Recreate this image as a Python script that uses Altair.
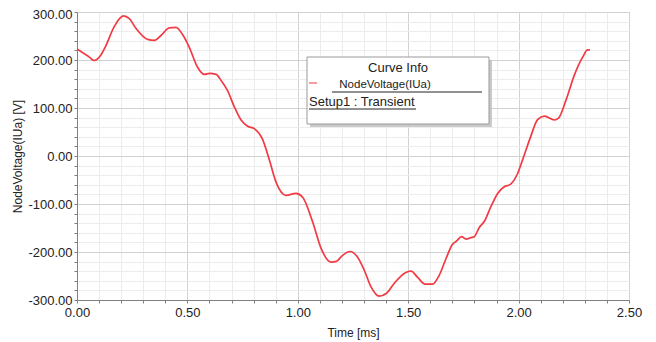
import altair as alt
import pandas as pd

# ---- data ----
time_ms = [0.0, 0.056, 0.078, 0.109, 0.131, 0.169, 0.21, 0.237, 0.267, 0.32, 0.35, 0.38,
           0.418, 0.448, 0.478, 0.509, 0.546, 0.577, 0.6, 0.63, 0.652, 0.682, 0.712, 0.743,
           0.773, 0.803, 0.84, 0.871, 0.901, 0.946, 0.992, 1.022, 1.067, 1.105, 1.15, 1.173,
           1.203, 1.236, 1.271, 1.301, 1.331, 1.369, 1.402, 1.437, 1.487, 1.513, 1.543, 1.577,
           1.61, 1.641, 1.671, 1.702, 1.717, 1.742, 1.762, 1.784, 1.799, 1.822, 1.845, 1.875,
           1.905, 1.935, 1.963, 1.995, 2.018, 2.056, 2.086, 2.117, 2.162, 2.181, 2.215, 2.252,
           2.29, 2.313, 2.323]
voltage = [223, 206, 199, 211, 230, 270, 292, 286, 266, 243, 241, 251,
           267, 268, 253, 226, 185, 170, 172, 170, 158, 136, 103, 75,
           62, 57, 35, -8, -54, -82, -78, -86, -137, -192, -221, -220,
           -207, -199, -211, -238, -272, -292, -286, -265, -243, -240, -253, -267,
           -267, -248, -214, -183, -178, -168, -173, -170, -168, -149, -136, -105,
           -78, -64, -59, -37, -8, 42, 76, 83, 75, 79, 117, 168,
           206, 221, 221]

x_ticks = [0.0, 0.1, 0.2, 0.3, 0.4, 0.5, 0.6, 0.7, 0.8, 0.9, 1.0, 1.1, 1.2, 1.3,
           1.4, 1.5, 1.6, 1.7, 1.8, 1.9, 2.0, 2.1, 2.2, 2.3, 2.4, 2.5]
y_ticks = [-300, -280, -260, -240, -220, -200, -180, -160, -140, -120, -100, -80, -60,
           -40, -20, 0, 20, 40, 60, 80, 100, 120, 140, 160, 180, 200, 220, 240, 260,
           280, 300]

x_title = "Time [ms]"
y_title = "NodeVoltage(IUa) [V]"
legend_title = "Curve Info"
legend_series = "NodeVoltage(IUa)"
legend_setup = "Setup1 : Transient"

FONT = "Liberation Sans"
RED = "#f23a44"

df = pd.DataFrame({"t": time_ms, "v": voltage})

x_major = "abs(datum.value*2 - round(datum.value*2)) < 0.001"
y_major = "abs(datum.value/100 - round(datum.value/100)) < 0.001"

xaxis = alt.Axis(
    values=x_ticks,
    labelExpr=f"{x_major} ? format(datum.value, '.2f') : ''",
    labelOverlap=False,
    labelFlush=False,
    title=x_title,
    grid=True,
    gridColor={"condition": {"test": x_major, "value": "#d2d2d2"}, "value": "#ececec"},
    tickSize=3,
    labelPadding=3,
    titlePadding=8,
)
yaxis = alt.Axis(
    values=y_ticks,
    labelExpr=f"{y_major} ? replace(format(datum.value, '.2f'), '\u2212', '-') : ''",
    labelOverlap=False,
    labelFlush=False,
    title=y_title,
    grid=True,
    gridColor={"condition": {"test": y_major, "value": "#d2d2d2"}, "value": "#ececec"},
    labelOffset={"condition": {"test": "datum.value >= 299", "value": 2}, "value": 0},
    tickSize=3,
    labelPadding=2,
    titlePadding=3,
)

curve = alt.Chart(df).mark_line(
    color=RED, strokeWidth=1.7, interpolate="monotone", clip=True
).encode(
    x=alt.X("t:Q", scale=alt.Scale(domain=[0, 2.5], nice=False, zero=False), axis=xaxis),
    y=alt.Y("v:Q", scale=alt.Scale(domain=[-300, 300], nice=False, zero=False), axis=yaxis),
)

one = alt.Data(values=[{"k": 0}])

shadow = alt.Chart(one).mark_rect(color="#bdbdbd", opacity=0.8).encode(
    x=alt.value(233), x2=alt.value(415), y=alt.value(48), y2=alt.value(115)
)
box = alt.Chart(one).mark_rect(fill="white", stroke="#9a9a9a", strokeWidth=1).encode(
    x=alt.value(230), x2=alt.value(412), y=alt.value(45), y2=alt.value(112)
)
lt = alt.Chart(one).mark_text(text=legend_title, font=FONT, fontSize=13, color="#222",
                              align="center", baseline="middle").encode(
    x=alt.value(321), y=alt.value(56))
dash = alt.Chart(one).mark_rule(color=RED, strokeWidth=1).encode(
    x=alt.value(232), x2=alt.value(240), y=alt.value(71))
ls = alt.Chart(one).mark_text(text=legend_series, font=FONT, fontSize=11.5, color="#222",
                              align="center", baseline="middle").encode(
    x=alt.value(308), y=alt.value(73))
ls_line = alt.Chart(one).mark_rule(color="#222", strokeWidth=1).encode(
    x=alt.value(255), x2=alt.value(405), y=alt.value(80))
su = alt.Chart(one).mark_text(text=legend_setup, font=FONT, fontSize=13, color="#222",
                              align="left", baseline="middle").encode(
    x=alt.value(232), y=alt.value(90))
su_line = alt.Chart(one).mark_rule(color="#222", strokeWidth=1).encode(
    x=alt.value(232), x2=alt.value(339), y=alt.value(97))

chart = alt.layer(curve, shadow, box, lt, dash, ls, ls_line, su, su_line).properties(
    width=552,
    height=288,
    autosize=alt.AutoSizeParams(type="none"),
    padding={"left": 69, "top": 4, "right": 19, "bottom": 40},
).configure_view(
    stroke="#a6a6a6", strokeWidth=1
).configure_axis(
    labelFont=FONT, titleFont=FONT, labelFontSize=13, titleFontSize=12,
    titleFontWeight="normal", labelColor="#222", titleColor="#222",
    domainColor="#808080", tickColor="#808080",
)

chart.save("out.html", embed_options={"renderer": "svg", "actions": False})
